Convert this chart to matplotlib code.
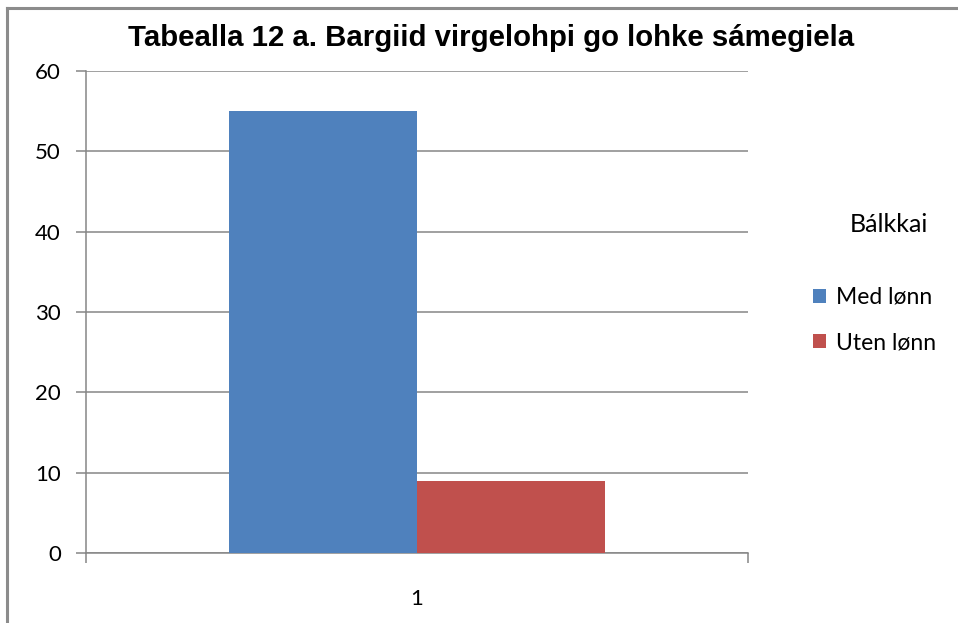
import numpy as np
import matplotlib.pyplot as plt
from matplotlib.lines import Line2D

# data
categories = ['1']
series_names = ['Med lønn', 'Uten lønn']
med_lonn = [55]
uten_lonn = [9]

colors = ['#4F81BD', '#C0504D']
grid_color = '#868686'

fig = plt.figure(figsize=(9.58, 6.23), dpi=100)
ax = fig.add_axes([86 / 958, 1 - 553 / 623, (748 - 86) / 958, (553 - 71) / 623])

x = np.arange(1, len(categories) + 1)
width = 0.284
b1 = ax.bar(x - width / 2, med_lonn, width, color=colors[0], label=series_names[0], zorder=3)
b2 = ax.bar(x + width / 2, uten_lonn, width, color=colors[1], label=series_names[1], zorder=3)

ax.set_xlim(0.5, len(categories) + 0.5)
ax.set_ylim(0, 60)
ax.set_yticks(np.arange(0, 61, 10))
ax.yaxis.grid(True, color=grid_color, linewidth=1.1, zorder=0)

# category labels, boundary ticks as minor ticks
ax.set_xticks(x)
ax.set_xticklabels(categories)
ax.set_xticks(np.arange(0.5, len(categories) + 1), minor=True)
ax.tick_params(axis='x', which='major', length=0, pad=26, labelsize=16)
ax.tick_params(axis='x', which='minor', length=7, width=1.1, color=grid_color, direction='out')
ax.tick_params(axis='y', length=7, width=1.1, color=grid_color, pad=11, labelsize=16)

for tl in ax.get_xticklabels() + ax.get_yticklabels():
    tl.set_family('Lato')

for s in ['top', 'right']:
    ax.spines[s].set_visible(False)
ax.spines['left'].set_color(grid_color)
ax.spines['bottom'].set_color(grid_color)
ax.spines['left'].set_linewidth(1.1)
ax.spines['bottom'].set_linewidth(1.1)

fig.text(491 / 958, 1 - 38 / 623, 'Tabealla 12 a. Bargiid virgelohpi go lohke sámegiela',
         ha='center', va='center', fontsize=21.2, fontweight='bold', family='Liberation Sans')

fig.text(889 / 958, 1 - 224 / 623, 'Bálkkai', ha='center', va='center', fontsize=18, family='Lato')
fig.legend(handles=[b1, b2], labels=series_names, loc='center left',
           bbox_to_anchor=(792 / 958, 1 - 320 / 623), frameon=False,
           prop={'family': 'Lato', 'size': 16.5}, handlelength=0.6, handleheight=0.6,
           handletextpad=0.4, labelspacing=1.05)

# chart frame (cropped, only top and left edges visible)
fig.add_artist(Line2D([7 / 958, 1], [1 - 8 / 623, 1 - 8 / 623], color='#8c8c8c', linewidth=2.2))
fig.add_artist(Line2D([7 / 958, 7 / 958], [0, 1 - 8 / 623], color='#8c8c8c', linewidth=2.2))

plt.savefig('out.png', dpi=100)
